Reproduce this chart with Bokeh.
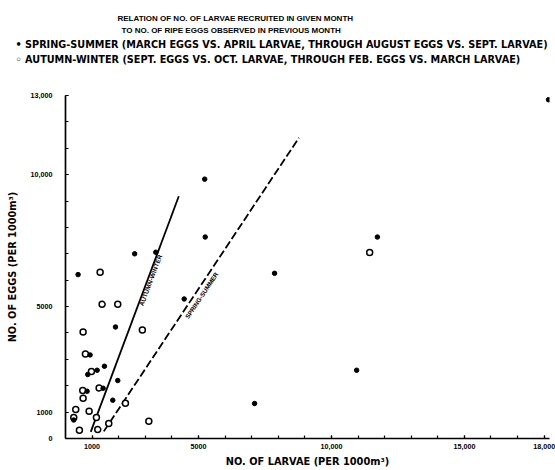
import math
from bokeh.plotting import figure
from bokeh.models import Range1d, FixedTicker, Title
from bokeh.core.properties import value
from bokeh.embed import file_html
from bokeh.resources import INLINE

# ---- data ----
# Spring-summer (filled dots): larvae (x) vs eggs (y), per 1000 m^3
ss_larvae = [5235, 5254, 2600, 3395, 473, 4463, 1880, 925, 836, 1189, 1464,
             812, 1415, 1965, 1777, 7110, 310, 7862, 11727, 18163, 10948]
ss_eggs = [9830, 7636, 7000, 7060, 6212, 5288, 4227, 3167, 2424, 2587, 2739,
           1792, 1905, 2197, 1451, 1326, 700, 6261, 7636, 12840, 2587]

# Autumn-winter (open circles)
aw_larvae = [1302, 1377, 1965, 662, 749, 975, 648, 662, 1264, 385, 888,
             1163, 2254, 310, 523, 1213, 1627, 3133, 2890, 11438]
aw_eggs = [6300, 5087, 5087, 4038, 3205, 2538, 1818, 1527, 1917, 1098, 1034,
           795, 1337, 800, 314, 340, 568, 655, 4115, 7045]

# fitted lines
aw_line_x = [950, 4260]
aw_line_y = [250, 9180]
ss_line_x = [1440, 8780]
ss_line_y = [270, 11400]

x_tick_vals = [1000, 5000, 10000, 15000, 18000]
x_tick_labels = ["1000", "5000", "10,000", "15,000", "18,000"]
x_minor = list(range(1000, 18001, 1000))
y_tick_vals = [0, 1000, 5000, 10000, 13000]
y_tick_labels = ["0", "1000", "5000", "10,000", "13,000"]
y_minor = list(range(0, 13001, 1000))

title_lines = [
    "RELATION OF NO. OF LARVAE RECRUITED IN GIVEN MONTH",
    "TO NO. OF RIPE EGGS OBSERVED IN PREVIOUS MONTH",
    "\u2022 SPRING-SUMMER (MARCH EGGS VS. APRIL LARVAE, THROUGH AUGUST EGGS VS. SEPT. LARVAE)",
    "\u25e6 AUTUMN-WINTER (SEPT. EGGS VS. OCT. LARVAE, THROUGH FEB. EGGS VS. MARCH LARVAE)",
]

FONT = "Liberation Sans"
WIDE = "DejaVu Sans"

p = figure(width=555, height=470, output_backend="svg", toolbar_location=None,
           x_range=Range1d(0, 18200), y_range=Range1d(0, 13000),
           min_border_left=65, min_border_right=6, min_border_top=95,
           min_border_bottom=32, background_fill_color="white",
           border_fill_color="white")
p.outline_line_color = None
p.grid.visible = False

# title stack (added innermost first); spacers are blank titles
def add_title(txt, off, so, fnt, fs):
    p.add_layout(Title(text=txt, align="left", offset=off, standoff=so,
                       text_font=fnt, text_font_size=fs, text_font_style="bold",
                       text_color="black"), "above")

add_title(" ", 0, 28.25, FONT, "1px")                    # spacer above frame
add_title(title_lines[3], -50, 0, WIDE, "9.7px")
add_title(title_lines[2], -50, 3, WIDE, "9.7px")
add_title(title_lines[1], 56, 0.5, FONT, "8px")
add_title(title_lines[0], 52, 0.5, FONT, "8px")
add_title(" ", 0, 6.25, FONT, "1px")                     # spacer at top

for ax in (p.xaxis[0], p.yaxis[0]):
    ax.axis_line_width = 1.7
    ax.axis_line_color = "black"
    ax.major_tick_in = 3
    ax.major_tick_out = 0
    ax.minor_tick_in = 3
    ax.minor_tick_out = 0
    ax.major_tick_line_width = 1.2
    ax.minor_tick_line_width = 1.2
    ax.major_label_text_font = FONT
    ax.major_label_text_font_size = "7.2px"
    ax.major_label_text_font_style = "bold"
    ax.major_label_text_color = "black"
    ax.axis_label_text_font = WIDE
    ax.axis_label_text_font_size = "9.8px"
    ax.axis_label_text_font_style = "bold"
    ax.axis_label_text_color = "black"

p.xaxis.ticker = FixedTicker(ticks=x_tick_vals, minor_ticks=x_minor)
p.xaxis.major_label_overrides = dict(zip(x_tick_vals, x_tick_labels))
p.xaxis.axis_label = "NO. OF LARVAE (PER 1000m\u00b3)"
p.xaxis.major_label_standoff = 5
p.xaxis.axis_label_standoff = 4

p.yaxis.ticker = FixedTicker(ticks=y_tick_vals, minor_ticks=y_minor)
p.yaxis.major_label_overrides = dict(zip(y_tick_vals, y_tick_labels))
p.yaxis.axis_label = "NO. OF EGGS (PER 1000m\u00b3)"
p.yaxis.major_label_standoff = 13
p.yaxis.axis_label_standoff = 10

# fitted lines
p.line(aw_line_x, aw_line_y, line_color="black", line_width=1.8)
p.line(ss_line_x, ss_line_y, line_color="black", line_width=1.8, line_dash="8 3")

# points
p.scatter(aw_larvae, aw_eggs, marker="circle", size=6, fill_color="white",
          line_color="black", line_width=1.5)
p.scatter(ss_larvae, ss_eggs, marker="circle", size=4.5, fill_color="black",
          line_color="black")

# line labels positioned along each line
def along(xs, ys, t, dx):
    return xs[0] + t * (xs[1] - xs[0]) + dx, ys[0] + t * (ys[1] - ys[0])

ax_, ay_ = along(aw_line_x, aw_line_y, 0.6435, 115)
bx_, by_ = along(ss_line_x, ss_line_y, 0.4634, 274)
p.text(x=[ax_], y=[ay_], text=["AUTUMN-WINTER"], angle=math.radians(69.6),
       text_font=value(FONT), text_font_size="6.3px", text_font_style="bold",
       text_align="center", text_baseline="middle", text_color="black")
p.text(x=[bx_], y=[by_], text=["SPRING-SUMMER"], angle=math.radians(56.4),
       text_font=value(FONT), text_font_size="6.3px", text_font_style="bold",
       text_align="center", text_baseline="middle", text_color="black")

open("out.html", "w").write(file_html(p, INLINE))
